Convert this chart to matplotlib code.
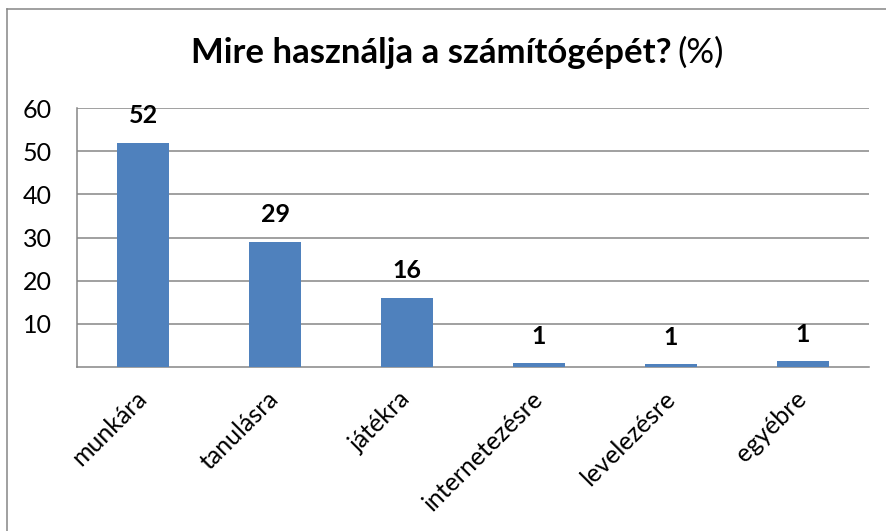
import matplotlib.pyplot as plt
from matplotlib.lines import Line2D

# Survey data: what the computer is used for (%)
categories = ['munkára', 'tanulásra', 'játékra', 'internetezésre', 'levelezésre', 'egyébre']
values = [52, 29, 16.1, 0.9, 0.6, 1.4]
y_ticks = [10, 20, 30, 40, 50, 60]

title_bold = 'Mire használja a számítógépét?'
title_unit = '(%)'

plt.rcParams['font.family'] = ['Lato', 'DejaVu Sans']

fig = plt.figure(figsize=(8.87, 5.31), dpi=100)
ax = fig.add_axes([77 / 887, 1 - 367 / 531, (869 - 77) / 887, (367 - 108) / 531])

x = range(len(categories))
bars = ax.bar(x, values, width=0.4, color='#4F81BD', zorder=3)

# value labels above the bars
for rect, v in zip(bars, values):
    ax.annotate(f'{v:.0f}', (rect.get_x() + rect.get_width() / 2, rect.get_height()),
                xytext=(0, 14), textcoords='offset points',
                ha='center', va='baseline', fontsize=18, fontweight='bold')

ax.set_xlim(-0.5, len(categories) - 0.5)
ax.set_ylim(0, 60)
ax.set_yticks(y_ticks)
ax.set_yticklabels([str(t) for t in y_ticks], fontsize=18)
ax.set_xticks(list(x))
ax.set_xticklabels(categories, fontsize=18, rotation=45, ha='right', va='center',
                   rotation_mode='anchor')
ax.tick_params(axis='y', length=0, pad=18)
ax.tick_params(axis='x', length=0, pad=20)

ax.grid(axis='y', color='#868686', linewidth=1.1, zorder=0)
for side in ['top', 'right']:
    ax.spines[side].set_visible(False)
for side in ['left', 'bottom']:
    ax.spines[side].set_color('#868686')
    ax.spines[side].set_linewidth(1.1)

# title: bold question plus normal unit
fig.text(672 / 887, 1 - 63 / 531, title_bold, ha='right', va='baseline',
         fontsize=25, fontweight='bold')
fig.text(677 / 887, 1 - 63 / 531, title_unit, ha='left', va='baseline', fontsize=25)

# chart border (left and top edges visible)
fig.add_artist(Line2D([7 / 887, 7 / 887], [0, 1 - 9 / 531], color='#868686', linewidth=1.1))
fig.add_artist(Line2D([7 / 887, 1], [1 - 9 / 531, 1 - 9 / 531], color='#868686', linewidth=1.1))

fig.savefig('out.png', dpi=100)
